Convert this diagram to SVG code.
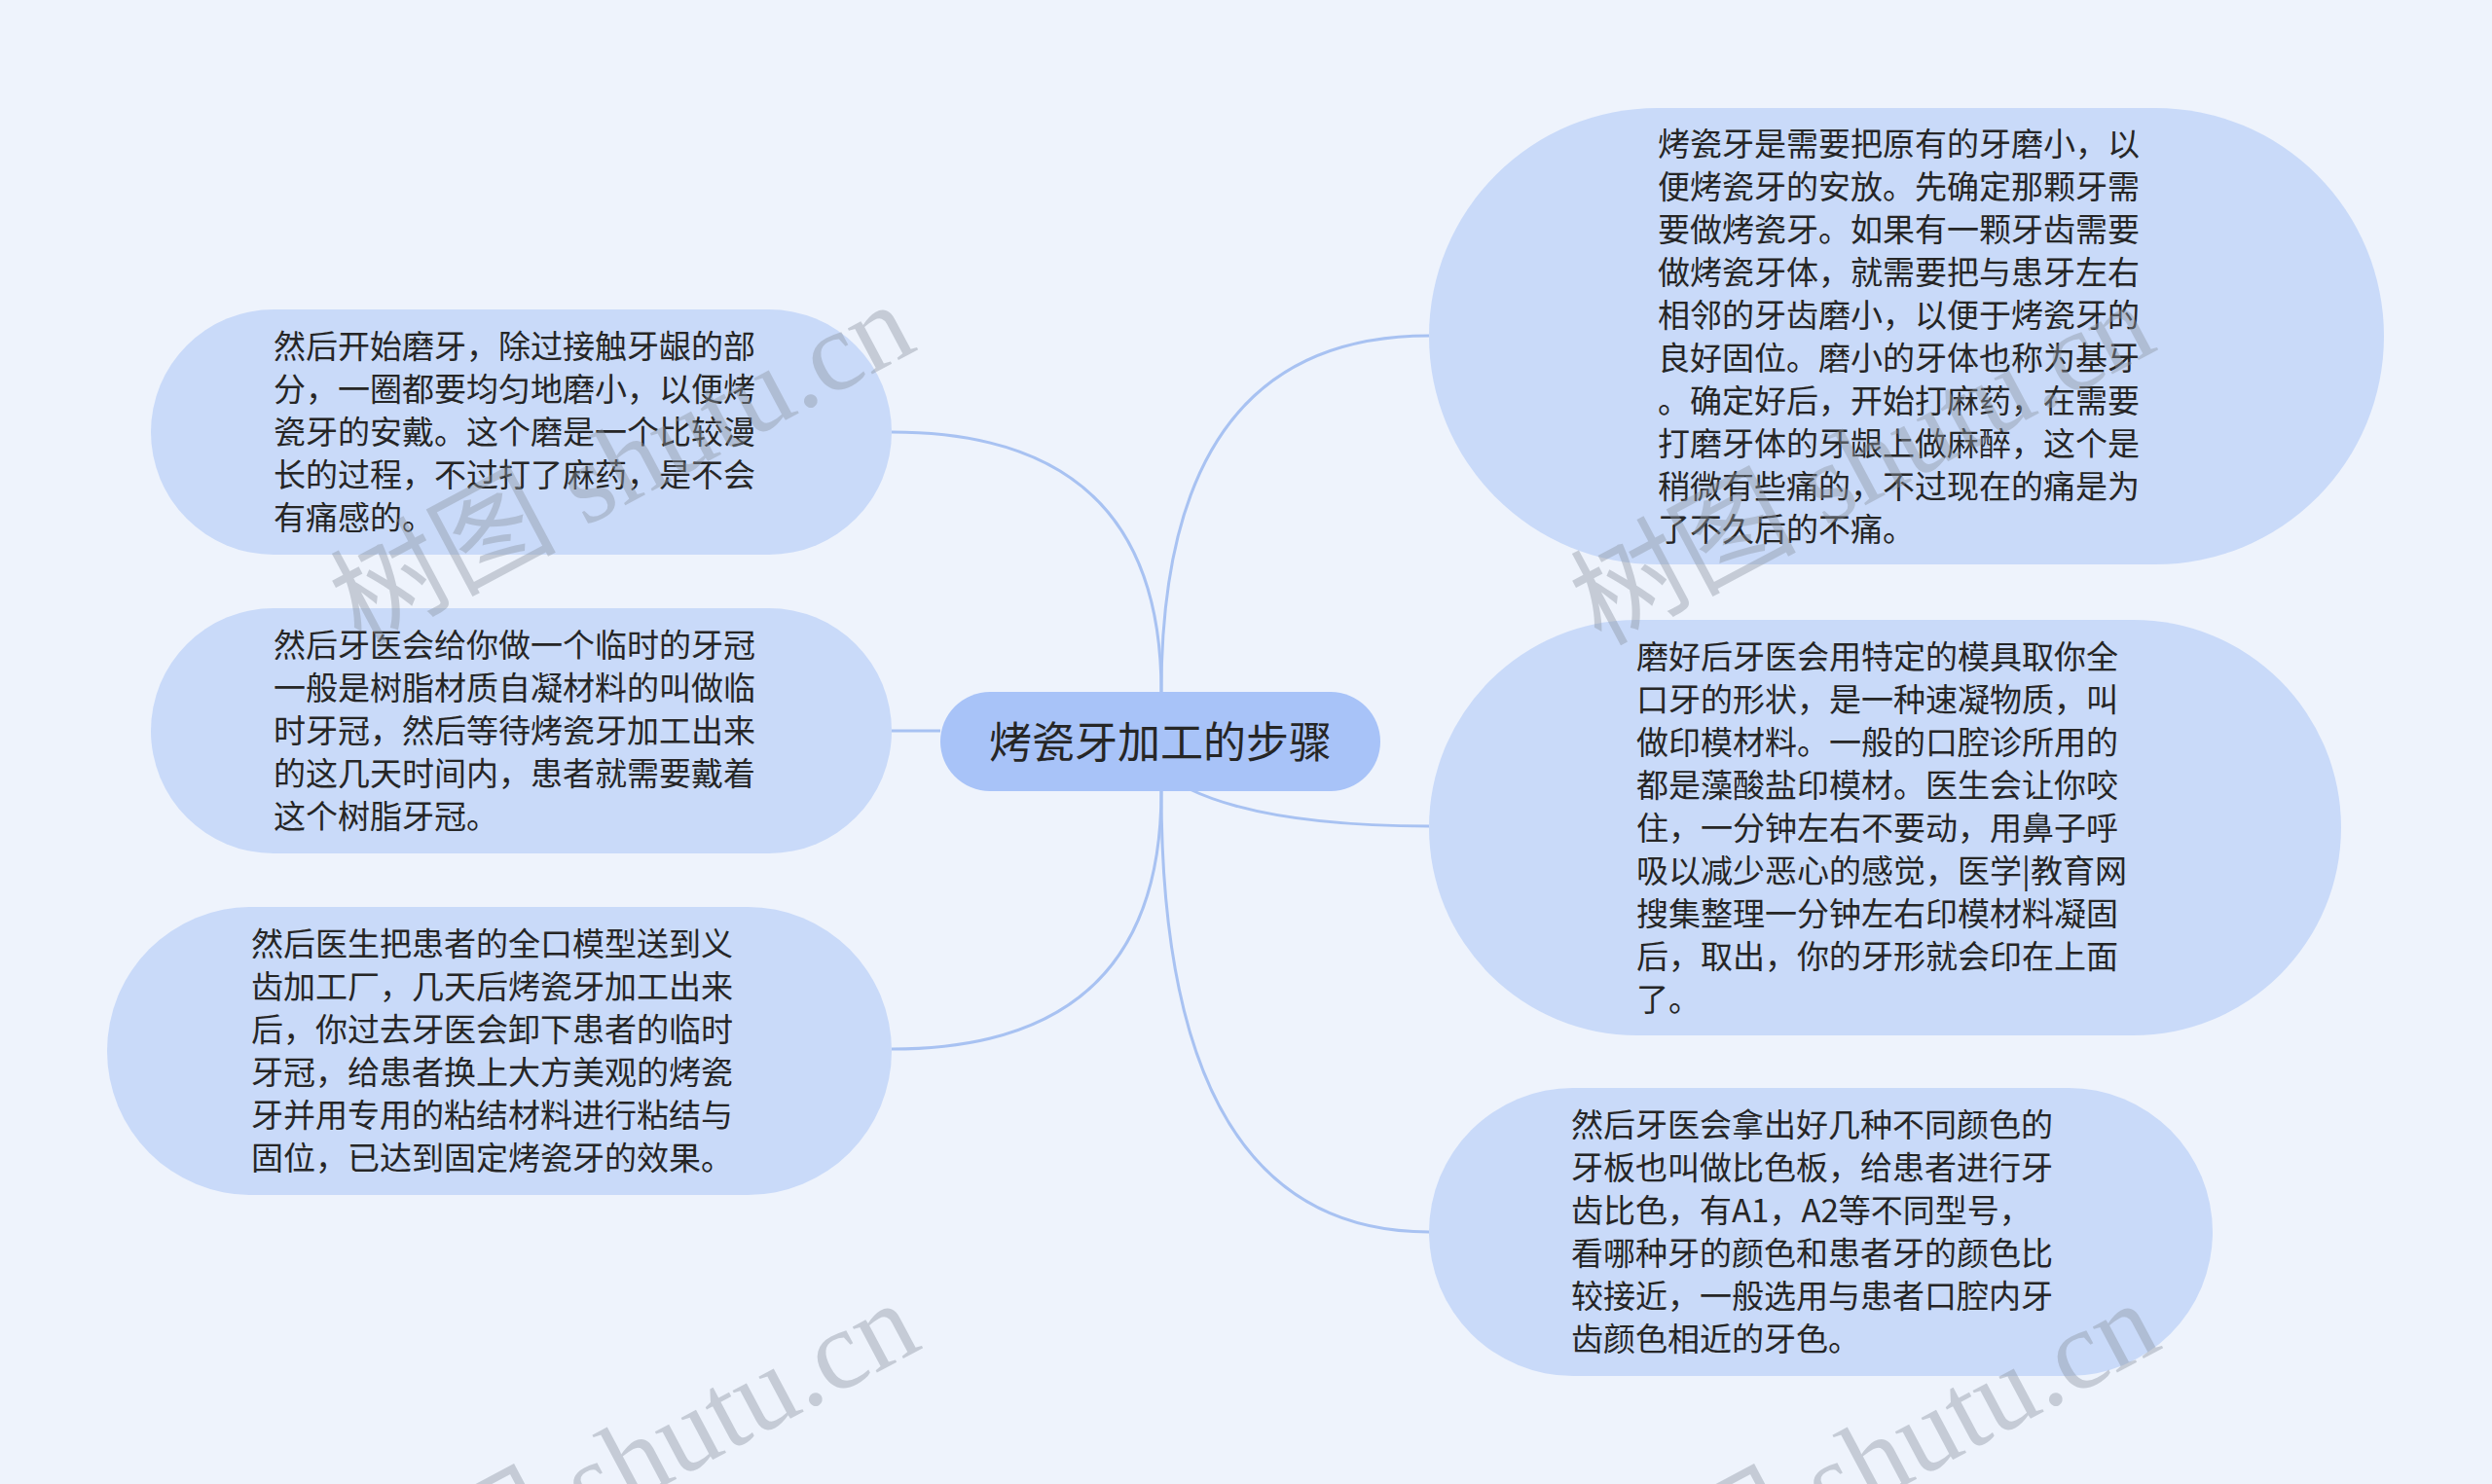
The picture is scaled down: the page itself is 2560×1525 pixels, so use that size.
<svg xmlns="http://www.w3.org/2000/svg" width="2560" height="1525" viewBox="0 0 2560 1525">
<style>
.bg{fill:#eef3fc}
.node{fill:#c9daf9}
.root{fill:#a8c3f8}
.link{fill:none;stroke:#a8c2f2;stroke-width:3}
.t{font-family:"Noto Sans CJK SC","Microsoft YaHei",sans-serif;font-size:33px;fill:#262626}
.rt{font-family:"Noto Sans CJK SC","Microsoft YaHei",sans-serif;font-size:44px;fill:#262626;text-anchor:middle}
.wm{font-family:"Liberation Serif","Noto Sans CJK SC",serif;font-size:116px;fill:#8d96a3;opacity:0.42}
</style>
<rect class="bg" x="0" y="0" width="2560" height="1525"/>
<g id="connectors">
<path class="link" d="M1193 711 Q1193 345 1468 345"/>
<path class="link" d="M1220 810 Q1300 849 1468 849"/>
<path class="link" d="M1193 813 Q1193 1266 1468 1266"/>
<path class="link" d="M1193 711 Q1193 444 916 444"/>
<path class="link" d="M966 751 L916 751"/>
<path class="link" d="M1193 813 Q1193 1078 916 1078"/>
</g>
<g id="root">
<rect class="root" x="966" y="711" width="452" height="102" rx="51"/>
<text class="rt" x="1192" y="779">烤瓷牙加工的步骤</text>
</g>
<g id="node-r1">
<rect class="node" x="1468" y="111" width="981" height="469" rx="234.5"/>
<text class="t" x="1703" y="160">烤瓷牙是需要把原有的牙磨小，以</text>
<text class="t" x="1703" y="204">便烤瓷牙的安放。先确定那颗牙需</text>
<text class="t" x="1703" y="248">要做烤瓷牙。如果有一颗牙齿需要</text>
<text class="t" x="1703" y="292">做烤瓷牙体，就需要把与患牙左右</text>
<text class="t" x="1703" y="336">相邻的牙齿磨小，以便于烤瓷牙的</text>
<text class="t" x="1703" y="380">良好固位。磨小的牙体也称为基牙</text>
<text class="t" x="1703" y="424">。确定好后，开始打麻药，在需要</text>
<text class="t" x="1703" y="468">打磨牙体的牙龈上做麻醉，这个是</text>
<text class="t" x="1703" y="512">稍微有些痛的，不过现在的痛是为</text>
<text class="t" x="1703" y="556">了不久后的不痛。</text>
</g>
<g id="node-r2">
<rect class="node" x="1468" y="637" width="937" height="427" rx="213.5"/>
<text class="t" x="1681" y="687">磨好后牙医会用特定的模具取你全</text>
<text class="t" x="1681" y="731">口牙的形状，是一种速凝物质，叫</text>
<text class="t" x="1681" y="775">做印模材料。一般的口腔诊所用的</text>
<text class="t" x="1681" y="819">都是藻酸盐印模材。医生会让你咬</text>
<text class="t" x="1681" y="863">住，一分钟左右不要动，用鼻子呼</text>
<text class="t" x="1681" y="907">吸以减少恶心的感觉，医学|教育网</text>
<text class="t" x="1681" y="951">搜集整理一分钟左右印模材料凝固</text>
<text class="t" x="1681" y="995">后，取出，你的牙形就会印在上面</text>
<text class="t" x="1681" y="1039">了。</text>
</g>
<g id="node-r3">
<rect class="node" x="1468" y="1118" width="805" height="296" rx="148"/>
<text class="t" x="1614" y="1168">然后牙医会拿出好几种不同颜色的</text>
<text class="t" x="1614" y="1212">牙板也叫做比色板，给患者进行牙</text>
<text class="t" x="1614" y="1256">齿比色，有A1，A2等不同型号，</text>
<text class="t" x="1614" y="1300">看哪种牙的颜色和患者牙的颜色比</text>
<text class="t" x="1614" y="1344">较接近，一般选用与患者口腔内牙</text>
<text class="t" x="1614" y="1388">齿颜色相近的牙色。</text>
</g>
<g id="node-l1">
<rect class="node" x="155" y="318" width="761" height="252" rx="126"/>
<text class="t" x="281" y="368">然后开始磨牙，除过接触牙龈的部</text>
<text class="t" x="281" y="412">分，一圈都要均匀地磨小，以便烤</text>
<text class="t" x="281" y="456">瓷牙的安戴。这个磨是一个比较漫</text>
<text class="t" x="281" y="500">长的过程，不过打了麻药，是不会</text>
<text class="t" x="281" y="544">有痛感的。</text>
</g>
<g id="node-l2">
<rect class="node" x="155" y="625" width="761" height="252" rx="126"/>
<text class="t" x="281" y="675">然后牙医会给你做一个临时的牙冠</text>
<text class="t" x="281" y="719">一般是树脂材质自凝材料的叫做临</text>
<text class="t" x="281" y="763">时牙冠，然后等待烤瓷牙加工出来</text>
<text class="t" x="281" y="807">的这几天时间内，患者就需要戴着</text>
<text class="t" x="281" y="851">这个树脂牙冠。</text>
</g>
<g id="node-l3">
<rect class="node" x="110" y="932" width="806" height="296" rx="148"/>
<text class="t" x="258" y="982">然后医生把患者的全口模型送到义</text>
<text class="t" x="258" y="1026">齿加工厂，几天后烤瓷牙加工出来</text>
<text class="t" x="258" y="1070">后，你过去牙医会卸下患者的临时</text>
<text class="t" x="258" y="1114">牙冠，给患者换上大方美观的烤瓷</text>
<text class="t" x="258" y="1158">牙并用专用的粘结材料进行粘结与</text>
<text class="t" x="258" y="1202">固位，已达到固定烤瓷牙的效果。</text>
</g>
<g id="watermark">
<text class="wm" transform="translate(370 664) rotate(-28)">树图 shutu.cn</text>
<text class="wm" transform="translate(1644 664) rotate(-28)">树图 shutu.cn</text>
<text class="wm" transform="translate(375 1690) rotate(-28)">树图 shutu.cn</text>
<text class="wm" transform="translate(1649 1690) rotate(-28)">树图 shutu.cn</text>
</g>
</svg>
